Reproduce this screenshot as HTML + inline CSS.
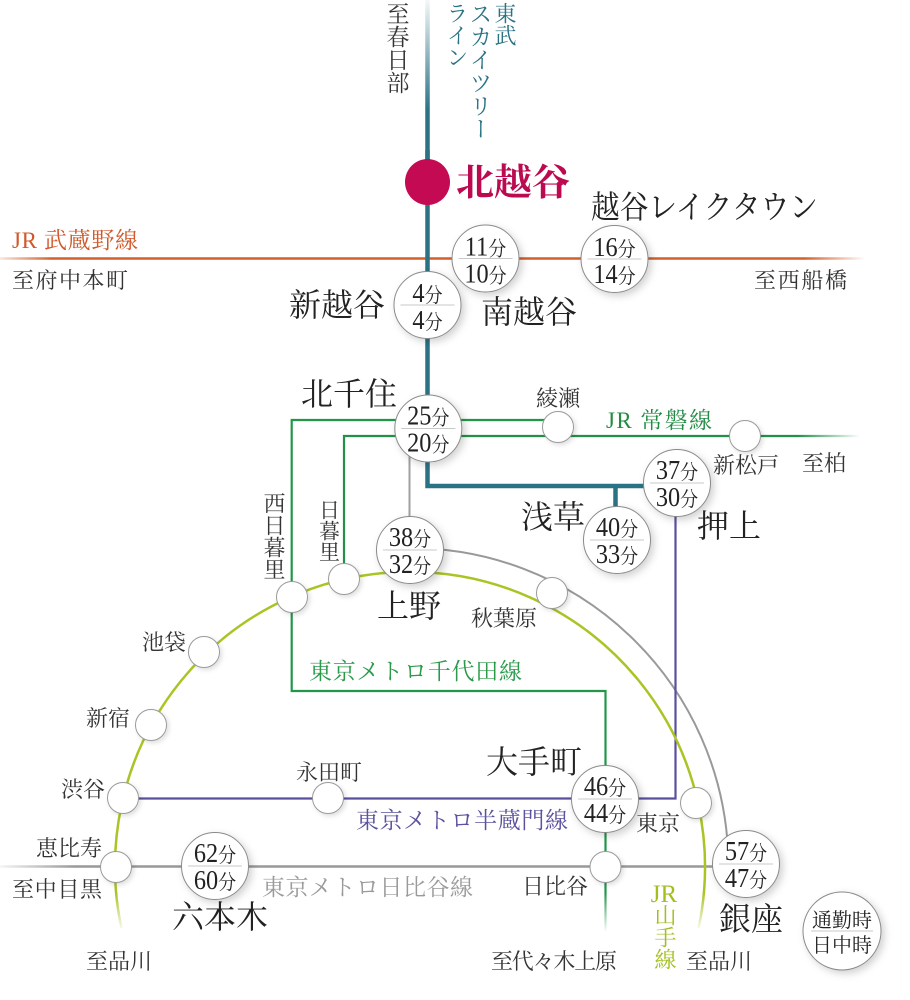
<!DOCTYPE html>
<html>
<head>
<meta charset="utf-8">
<style>
html,body{margin:0;padding:0;background:#fff;}
#wrap{position:relative;width:910px;height:1000px;overflow:hidden;background:#fff;}
svg{position:absolute;left:0;top:0;}
.v{position:absolute;writing-mode:vertical-rl;line-height:1;font-family:"Liberation Serif","Noto Serif CJK SC","Noto Serif CJK JP",serif;white-space:nowrap;}
text{font-family:"Liberation Serif","Noto Serif CJK SC","Noto Serif CJK JP",serif;}
.L{font-size:32px;fill:#222;}
.S{font-size:22px;fill:#333;}
.n{font-size:27px;}
.f{font-size:20px;}
.tc{fill:#fff;stroke:#8a8a8a;stroke-width:1;filter:url(#sh);}
.sc{fill:#fff;stroke:#9a9a9a;stroke-width:1;filter:url(#sh2);}
.dv{stroke:#c8c8c8;stroke-width:1;}
.tt{fill:#222;}
</style>
</head>
<body>
<div id="wrap">
<svg width="910" height="1000" viewBox="0 0 910 1000" xmlns="http://www.w3.org/2000/svg">
<defs>
<filter id="sh" x="-40%" y="-40%" width="190%" height="190%">
<feDropShadow dx="3" dy="3" stdDeviation="4" flood-color="#000" flood-opacity="0.18"/>
</filter>
<filter id="sh2" x="-50%" y="-50%" width="200%" height="200%">
<feDropShadow dx="2" dy="2" stdDeviation="2.5" flood-color="#000" flood-opacity="0.13"/>
</filter>
<linearGradient id="gTeal" gradientUnits="userSpaceOnUse" x1="0" y1="0" x2="0" y2="110">
<stop offset="0" stop-color="#2a7385" stop-opacity="0.05"/>
<stop offset="1" stop-color="#2a7385" stop-opacity="1"/>
</linearGradient>
<linearGradient id="gOr" gradientUnits="userSpaceOnUse" x1="0" y1="0" x2="865" y2="0">
<stop offset="0" stop-color="#d2602c" stop-opacity="0.15"/>
<stop offset="0.06" stop-color="#d2602c" stop-opacity="1"/>
<stop offset="0.93" stop-color="#d2602c" stop-opacity="1"/>
<stop offset="1" stop-color="#d2602c" stop-opacity="0"/>
</linearGradient>
<linearGradient id="gGr" gradientUnits="userSpaceOnUse" x1="344" y1="0" x2="860" y2="0">
<stop offset="0.88" stop-color="#23904a" stop-opacity="1"/>
<stop offset="1" stop-color="#23904a" stop-opacity="0"/>
</linearGradient>
<linearGradient id="gGy" gradientUnits="userSpaceOnUse" x1="0" y1="0" x2="746" y2="0">
<stop offset="0" stop-color="#999" stop-opacity="0.1"/>
<stop offset="0.1" stop-color="#999" stop-opacity="1"/>
</linearGradient>
<linearGradient id="gMask" gradientUnits="userSpaceOnUse" x1="0" y1="893" x2="0" y2="932">
<stop offset="0" stop-color="#fff"/>
<stop offset="1" stop-color="#000"/>
</linearGradient>
<mask id="mb" maskUnits="userSpaceOnUse" x="0" y="0" width="910" height="1000">
<rect x="0" y="0" width="910" height="893" fill="#fff"/>
<rect x="0" y="893" width="910" height="40" fill="url(#gMask)"/>
</mask>
</defs>

<line x1="0" y1="258.5" x2="865" y2="258.5" stroke="url(#gOr)" stroke-width="2.5"/>

<line x1="427.5" y1="0" x2="427.5" y2="160" stroke="url(#gTeal)" stroke-width="4.5"/>
<path d="M427.5 150 L427.5 486 L677 486 M615.5 486 L615.5 540" fill="none" stroke="#2a7385" stroke-width="4.5"/>

<path d="M558 420 L291.7 420 L291.7 691 L605.5 691 L605.5 940" fill="none" stroke="#23964a" stroke-width="2.2" mask="url(#mb)"/>
<path d="M344 579 L344 436 L860 436" fill="none" stroke="url(#gGr)" stroke-width="2.2"/>

<line x1="0" y1="866.5" x2="746" y2="866.5" stroke="url(#gGy)" stroke-width="2.5"/>
<line x1="409.5" y1="431" x2="409.5" y2="550" stroke="#a0a0a0" stroke-width="2"/>
<path d="M410 548 A318 318 0 0 1 728 850" fill="none" stroke="#999" stroke-width="2"/>

<path d="M675.5 483 L675.5 798.5 L123 798.5" fill="none" stroke="#5a50a0" stroke-width="2.2"/>

<path d="M121.4 928 A295 295 0 1 1 698.6 928" fill="none" stroke="#a8c524" stroke-width="2.5" mask="url(#mb)"/>

<ellipse cx="427.5" cy="182" rx="22.5" ry="23" fill="#c40a52"/>

<circle class="sc" cx="558" cy="427" r="15.5"/>
<circle class="sc" cx="745" cy="436" r="15.5"/>
<circle class="sc" cx="292" cy="597" r="15.5"/>
<circle class="sc" cx="344" cy="579" r="15.5"/>
<circle class="sc" cx="552" cy="593" r="15.5"/>
<circle class="sc" cx="204" cy="652" r="15.5"/>
<circle class="sc" cx="151" cy="725" r="15.5"/>
<circle class="sc" cx="123" cy="798" r="15.5"/>
<circle class="sc" cx="328" cy="798" r="15.5"/>
<circle class="sc" cx="116" cy="867" r="15.5"/>
<circle class="sc" cx="696" cy="803" r="15.5"/>
<circle class="sc" cx="605.5" cy="867" r="15.5"/>

<g transform="translate(485.5,258.5)">
<circle class="tc" cx="0" cy="0" r="33.5"/><line class="dv" x1="-27" y1="0" x2="27" y2="0"/>
<text class="tt" transform="scale(0.9,1)" text-anchor="middle" y="-3"><tspan class="n">11</tspan><tspan class="f">分</tspan></text>
<text class="tt" transform="scale(0.9,1)" text-anchor="middle" y="24"><tspan class="n">10</tspan><tspan class="f">分</tspan></text>
</g>
<g transform="translate(614.5,259)">
<circle class="tc" cx="0" cy="0" r="33.5"/><line class="dv" x1="-27" y1="0" x2="27" y2="0"/>
<text class="tt" transform="scale(0.9,1)" text-anchor="middle" y="-3"><tspan class="n">16</tspan><tspan class="f">分</tspan></text>
<text class="tt" transform="scale(0.9,1)" text-anchor="middle" y="24"><tspan class="n">14</tspan><tspan class="f">分</tspan></text>
</g>
<g transform="translate(427.5,305)">
<circle class="tc" cx="0" cy="0" r="33.5"/><line class="dv" x1="-27" y1="0" x2="27" y2="0"/>
<text class="tt" transform="scale(0.9,1)" text-anchor="middle" y="-3"><tspan class="n">4</tspan><tspan class="f">分</tspan></text>
<text class="tt" transform="scale(0.9,1)" text-anchor="middle" y="24"><tspan class="n">4</tspan><tspan class="f">分</tspan></text>
</g>
<g transform="translate(428.3,428.5)">
<circle class="tc" cx="0" cy="0" r="33.5"/><line class="dv" x1="-27" y1="0" x2="27" y2="0"/>
<text class="tt" transform="scale(0.9,1)" text-anchor="middle" y="-4"><tspan class="n">25</tspan><tspan class="f">分</tspan></text>
<text class="tt" transform="scale(0.9,1)" text-anchor="middle" y="23"><tspan class="n">20</tspan><tspan class="f">分</tspan></text>
</g>
<g transform="translate(677,483)">
<circle class="tc" cx="0" cy="0" r="33.5"/><line class="dv" x1="-27" y1="0" x2="27" y2="0"/>
<text class="tt" transform="scale(0.9,1)" text-anchor="middle" y="-4"><tspan class="n">37</tspan><tspan class="f">分</tspan></text>
<text class="tt" transform="scale(0.9,1)" text-anchor="middle" y="23"><tspan class="n">30</tspan><tspan class="f">分</tspan></text>
</g>
<g transform="translate(617,540)">
<circle class="tc" cx="0" cy="0" r="33.5"/><line class="dv" x1="-27" y1="0" x2="27" y2="0"/>
<text class="tt" transform="scale(0.9,1)" text-anchor="middle" y="-4"><tspan class="n">40</tspan><tspan class="f">分</tspan></text>
<text class="tt" transform="scale(0.9,1)" text-anchor="middle" y="23"><tspan class="n">33</tspan><tspan class="f">分</tspan></text>
</g>
<g transform="translate(410,550)">
<circle class="tc" cx="0" cy="0" r="33.5"/><line class="dv" x1="-27" y1="0" x2="27" y2="0"/>
<text class="tt" transform="scale(0.9,1)" text-anchor="middle" y="-4"><tspan class="n">38</tspan><tspan class="f">分</tspan></text>
<text class="tt" transform="scale(0.9,1)" text-anchor="middle" y="23"><tspan class="n">32</tspan><tspan class="f">分</tspan></text>
</g>
<g transform="translate(605,799)">
<circle class="tc" cx="0" cy="0" r="33.5"/><line class="dv" x1="-27" y1="0" x2="27" y2="0"/>
<text class="tt" transform="scale(0.9,1)" text-anchor="middle" y="-4"><tspan class="n">46</tspan><tspan class="f">分</tspan></text>
<text class="tt" transform="scale(0.9,1)" text-anchor="middle" y="23"><tspan class="n">44</tspan><tspan class="f">分</tspan></text>
</g>
<g transform="translate(746,864)">
<circle class="tc" cx="0" cy="0" r="33.5"/><line class="dv" x1="-27" y1="0" x2="27" y2="0"/>
<text class="tt" transform="scale(0.9,1)" text-anchor="middle" y="-4"><tspan class="n">57</tspan><tspan class="f">分</tspan></text>
<text class="tt" transform="scale(0.9,1)" text-anchor="middle" y="23"><tspan class="n">47</tspan><tspan class="f">分</tspan></text>
</g>
<g transform="translate(215,866)">
<circle class="tc" cx="0" cy="0" r="33.5"/><line class="dv" x1="-27" y1="0" x2="27" y2="0"/>
<text class="tt" transform="scale(0.9,1)" text-anchor="middle" y="-4"><tspan class="n">62</tspan><tspan class="f">分</tspan></text>
<text class="tt" transform="scale(0.9,1)" text-anchor="middle" y="23"><tspan class="n">60</tspan><tspan class="f">分</tspan></text>
</g>
<g transform="translate(842,931)">
<circle class="tc" cx="0" cy="0" r="39"/><line class="dv" x1="-31" y1="0" x2="31" y2="0"/>
<text class="tt" text-anchor="middle" y="-4" font-size="20">通勤時</text>
<text class="tt" text-anchor="middle" y="21" font-size="20">日中時</text>
</g>

<text x="456" y="195" font-size="37" fill="#bb0a50" font-weight="bold" textLength="114" lengthAdjust="spacingAndGlyphs">北越谷</text>
<text class="L" x="591" y="218" font-size="29" textLength="227" lengthAdjust="spacingAndGlyphs">越谷レイクタウン</text>
<text class="L" x="289" y="316" font-size="33">新越谷</text>
<text class="L" x="481" y="323">南越谷</text>
<text class="L" x="301" y="405">北千住</text>
<text class="L" x="521" y="528" font-size="31">浅草</text>
<text class="L" x="697" y="537">押上</text>
<text class="L" x="377" y="617">上野</text>
<text class="L" x="486" y="773">大手町</text>
<text class="L" x="719" y="930">銀座</text>
<text class="L" x="172" y="928" font-size="28">六本木</text>

<text class="S" x="12" y="288" font-size="23" textLength="116">至府中本町</text>
<text class="S" x="754" y="288" font-size="23" textLength="93">至西船橋</text>
<text class="S" x="536" y="406" font-size="21">綾瀬</text>
<text class="S" x="713" y="473">新松戸</text>
<text class="S" x="802" y="471">至柏</text>
<text class="S" x="471" y="626">秋葉原</text>
<text class="S" x="142" y="650">池袋</text>
<text class="S" x="86" y="726">新宿</text>
<text class="S" x="296" y="780">永田町</text>
<text class="S" x="61" y="797">渋谷</text>
<text class="S" x="636" y="831">東京</text>
<text class="S" x="36" y="856">恵比寿</text>
<text class="S" x="12" y="897" textLength="90">至中目黒</text>
<text class="S" x="522" y="894">日比谷</text>
<text class="S" x="86" y="969">至品川</text>
<text class="S" x="491" y="969" textLength="126">至代々木上原</text>
<text class="S" x="686" y="969">至品川</text>

<text x="12" y="248" font-size="23" fill="#d0582a" textLength="126">JR 武蔵野線</text>
<text x="606" y="428" font-size="23" fill="#228c44" textLength="106">JR 常磐線</text>
<text x="309" y="679" font-size="23" fill="#2a9a4a" textLength="213">東京メトロ千代田線</text>
<text x="356" y="828" font-size="23" fill="#5a529f" textLength="212">東京メトロ半蔵門線</text>
<text x="262" y="895" font-size="23" fill="#9a9a9a" textLength="211">東京メトロ日比谷線</text>
<text x="664" y="902" font-size="25" fill="#a2bf1f" text-anchor="middle">JR</text>
</svg>

<div class="v" style="left:384.5px;top:2px;font-size:23px;color:#333;">至春日部</div>
<div class="v" style="left:493px;top:2px;font-size:22px;color:#2a7385;">東武</div>
<div class="v" style="left:467.5px;top:2px;font-size:23px;color:#2a7385;">スカイツリー</div>
<div class="v" style="left:445px;top:2px;font-size:22px;color:#2a7385;">ライン</div>
<div class="v" style="left:262px;top:492px;font-size:22px;color:#333;">西日暮里</div>
<div class="v" style="left:317.5px;top:499px;font-size:21px;color:#333;">日暮里</div>
<div class="v" style="left:653px;top:904px;font-size:22px;color:#a2bf1f;">山手線</div>
</div>
</body>
</html>
